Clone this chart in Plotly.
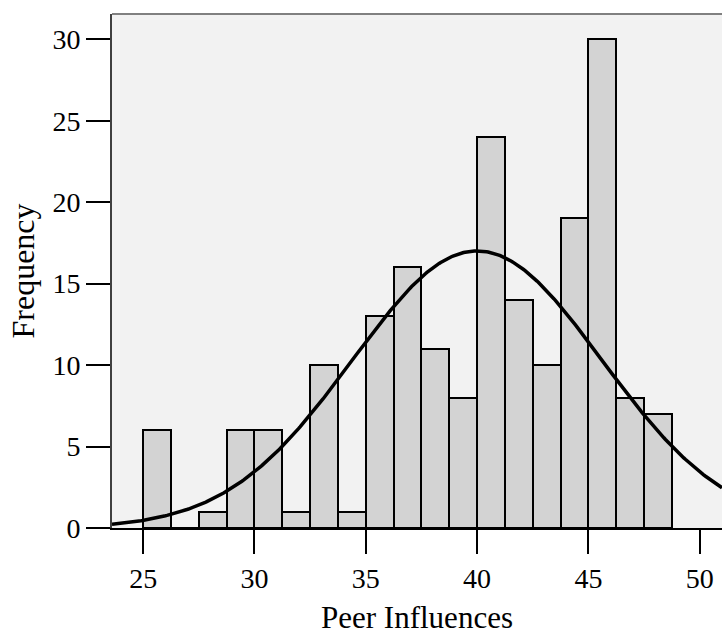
import numpy as np
import plotly.graph_objects as go

# Histogram data: bins of width 1.25 starting at 25
bin_edges = [25.0, 26.25, 27.5, 28.75, 30.0, 31.25, 32.5, 33.75, 35.0, 36.25,
             37.5, 38.75, 40.0, 41.25, 42.5, 43.75, 45.0, 46.25, 47.5, 48.75]
counts = [6, 0, 1, 6, 6, 1, 10, 1, 13, 16, 11, 8, 24, 14, 10, 19, 30, 8, 7]

# Fitted normal curve parameters
mean_val = 40.0
sd_val = 5.6

x_ticks = [25, 30, 35, 40, 45, 50]
y_ticks = [0, 5, 10, 15, 20, 25, 30]

edges = np.array(bin_edges)
centers = (edges[:-1] + edges[1:]) / 2
widths = np.diff(edges)
n_total = sum(counts)
bw = widths[0]

xs = np.linspace(23.6, 51.0, 400)
ys = n_total * bw / (sd_val * np.sqrt(2 * np.pi)) * np.exp(-0.5 * ((xs - mean_val) / sd_val) ** 2)

FONT = "Liberation Serif"

fig = go.Figure()
fig.add_trace(go.Bar(
    x=centers, y=counts, width=widths,
    marker=dict(color="#d3d3d3", line=dict(color="black", width=2)),
    showlegend=False, hoverinfo="x+y",
))
fig.add_trace(go.Scatter(
    x=xs, y=ys, mode="lines",
    line=dict(color="black", width=3.5),
    showlegend=False, hoverinfo="skip",
))

fig.update_layout(
    width=722, height=635,
    margin=dict(l=112, r=0, t=14, b=107),
    paper_bgcolor="white",
    plot_bgcolor="#f2f2f2",
    font=dict(family=FONT, color="black", size=28),
    bargap=0,
    xaxis=dict(
        range=[23.6, 51.0], tickvals=x_ticks, ticktext=[str(v) for v in x_ticks],
        ticks="outside", ticklen=24, tickwidth=2, tickcolor="black",
        showline=True, linecolor="black", linewidth=2,
        showgrid=False, zeroline=False,
        tickfont=dict(size=28, family=FONT),
        title=dict(text="Peer Influences", font=dict(size=31, family=FONT), standoff=14),
    ),
    yaxis=dict(
        range=[0, 31.55], tickvals=y_ticks, ticktext=[str(v) for v in y_ticks],
        ticks="outside", ticklen=24, tickwidth=2, tickcolor="black",
        showline=True, linecolor="#404040", linewidth=2,
        showgrid=False, zeroline=False,
        tickfont=dict(size=28, family=FONT),
        title=dict(text="Frequency", font=dict(size=32, family=FONT), standoff=8),
    ),
    shapes=[dict(type="line", xref="paper", yref="paper", x0=0, x1=1, y0=1, y1=1,
                 line=dict(color="#808080", width=2))],
)

fig.write_html("out.html")
